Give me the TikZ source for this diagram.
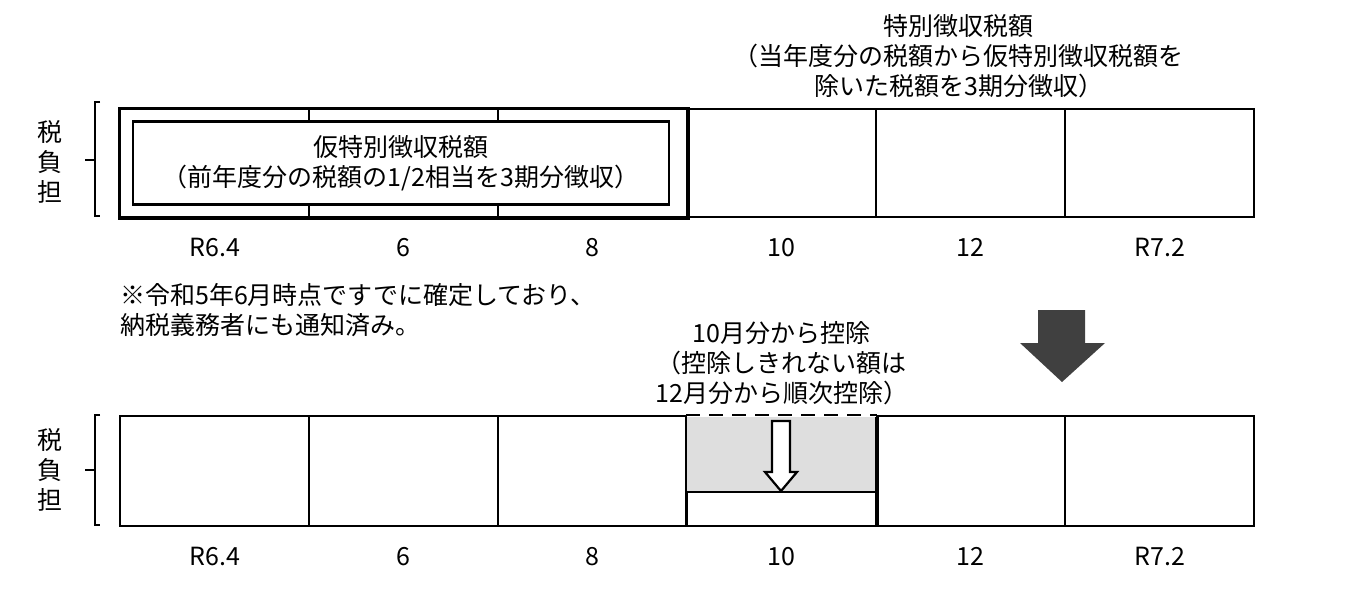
\documentclass[tikz,border=0pt]{standalone}
\usepackage{fontspec}
\setmainfont{Noto Sans CJK JP}
\usetikzlibrary{positioning}

\begin{document}
\begin{tikzpicture}[
		x=1pt, y=-1pt,
		every node/.style={font=\fontsize{25}{30}\selectfont, inner sep=0pt},
		cell/.style={draw, line width=2.4pt, minimum width=189pt, minimum height=108pt, anchor=north west},
		month/.style={below=20pt of #1},
		bracket/.style={draw, line width=1.2pt},
	]
		\useasboundingbox (0,0) rectangle (1358,589);
		% upper row
		\foreach \i/\m in {0/R6.4,1/6,2/8,3/10,4/12,5/R7.2} {
			\node (u\i) [cell] at (119+189*\i,108) {};
			\node (um\i) [month=u\i.south] {\m};
		}
		\draw[line width=2.4pt] (u0.north west) rectangle (u2.south east);
		\node (prov) [draw, fill=white, line width=2.8pt, minimum width=536pt, minimum height=83pt, align=center] at (401,163) {仮特別徴収税額\\（前年度分の税額の1/2相当を3期分徴収）};
		\node (spec) [align=center, above=10pt of u4.north, xshift=-12pt] {特別徴収税額\\（当年度分の税額から仮特別徴収税額を\\除いた税額を3期分徴収）};
		\node (ul) [align=center] at (50,162) {税\\負\\担};
		\draw[bracket] (100,102) -- (95,102) -- (95,216) -- (100,216) (95,160) -- (85,160);
		\node (note) [align=left, anchor=north west] at (120,283) {※令和5年6月時点ですでに確定しており、\\納税義務者にも通知済み。};
		% big arrow
		\fill[black!75] (1038,310) -- (1085,310) -- (1085,343) -- (1105,343) -- (1062,382) -- (1020,343) -- (1038,343) -- cycle;
		% lower row
		\foreach \i/\m in {0/R6.4,1/6,2/8,3/10,4/12,5/R7.2} {
			\node (l\i) [cell, minimum height=110pt] at (119+189*\i,415) {};
			\node (lm\i) [month=l\i.south] {\m};
		}
		\fill[black!13] (686,416) rectangle (875,492);
		\draw[line width=3pt, white] (l3.north west) -- (l3.north east);
		\draw[line width=2.4pt, dash pattern=on 14pt off 9pt] (l3.north west) -- (l3.north east);
		\draw[line width=2.4pt] (686,492) -- (875,492);
		\draw[line width=2.4pt] (l3.north west) -- (l3.south west) (l3.north east) -- (l3.south east);
		\draw[line width=2.2pt, fill=white] (772,421) -- (790,421) -- (790,472) -- (797,472) -- (781,491) -- (765,472) -- (772,472) -- cycle;
		\node (ded) [align=center, above=10pt of l3.north] {10月分から控除\\（控除しきれない額は\\12月分から順次控除）};
		\node (ll) [align=center] at (50,470) {税\\負\\担};
		\draw[bracket] (100,415) -- (95,415) -- (95,525) -- (100,525) (95,470) -- (85,470);
	\end{tikzpicture}
\end{document}
